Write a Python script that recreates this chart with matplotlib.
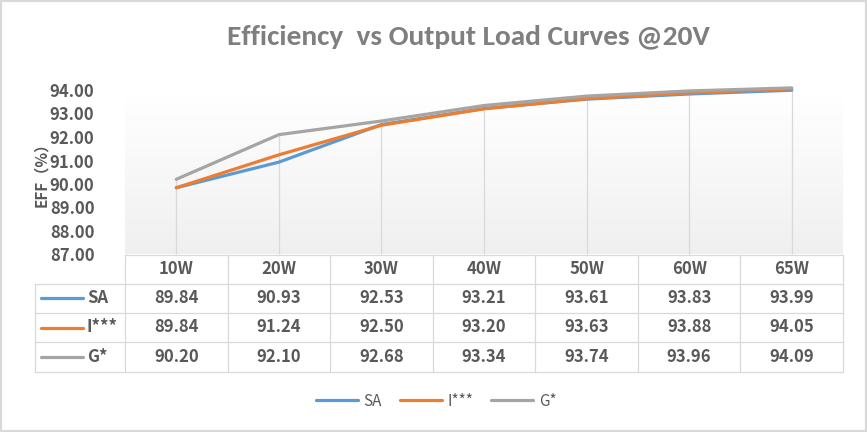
import numpy as np
import matplotlib
matplotlib.use("Agg")
import matplotlib.pyplot as plt
from matplotlib.lines import Line2D
from matplotlib.patches import Rectangle
from matplotlib.colors import to_rgb

# ---------------- data ----------------
categories = ["10W", "20W", "30W", "40W", "50W", "60W", "65W"]
series_names = ["SA", "I***", "G*"]
sa_values = [89.84, 90.93, 92.53, 93.21, 93.61, 93.83, 93.99]
i_values = [89.84, 91.24, 92.50, 93.20, 93.63, 93.88, 94.05]
g_values = [90.20, 92.10, 92.68, 93.34, 93.74, 93.96, 94.09]
y_ticks = [87, 88, 89, 90, 91, 92, 93, 94]
title_text = "Efficiency  vs Output Load Curves @20V"
ylabel_text = "EFF（%）"

series_values = [sa_values, i_values, g_values]
colors = ["#5B9BD5", "#ED7D31", "#A5A5A5"]
text_col = "#595959"
grid_col = "#D9D9D9"

plt.rcParams['font.family'] = ['Noto Sans CJK SC', 'DejaVu Sans']

W, H = 867, 432
fig = plt.figure(figsize=(W / 100, H / 100), dpi=100)
fig.patch.set_facecolor("white")


def fx(px):
    return px / W


def fy(py):
    return 1 - py / H


# ---------------- plot area ----------------
left, right, top, bottom = 125, 843, 90, 254.5
ax = fig.add_axes([fx(left), fy(bottom), (right - left) / W, (bottom - top) / H])
ax.set_facecolor("white")
n = len(categories)
x = np.arange(n)
ax.set_xlim(-0.5, n - 0.5)
ax.set_ylim(y_ticks[0], y_ticks[-1])

# background gradient: light grey at the bottom fading to white at the top
c_bot = np.array(to_rgb("#EFEFEF"))
c_top = np.array(to_rgb("#FFFFFF"))
nb = 60
edges = np.linspace(0, 1, nb + 1)
for k in range(nb):
    f = (k + 0.5) / nb
    ax.axhspan(y_ticks[0] + edges[k] * (y_ticks[-1] - y_ticks[0]),
               y_ticks[0] + edges[k + 1] * (y_ticks[-1] - y_ticks[0]),
               color=tuple(c_bot * (1 - f) + c_top * f), lw=0, zorder=0)

tops = np.max(np.array(series_values), axis=0)
ax.vlines(x, y_ticks[0], tops, color=grid_col, lw=0.9, zorder=1)

for vals, c, name in zip(series_values, colors, series_names):
    ax.plot(x, vals, color=c, lw=2.3, clip_on=False, solid_joinstyle="round",
            solid_capstyle="round", zorder=3, label=name)

ax.set_xticks([])
ax.set_yticks(y_ticks)
ax.set_yticklabels([f"{v:.2f}" for v in y_ticks], fontsize=12,
                   fontweight="bold", color=text_col)
ax.tick_params(axis="y", length=0, pad=22)
for s in ax.spines.values():
    s.set_visible(False)

fig.text(fx(41), fy(171), ylabel_text, rotation=90, ha="center", va="center",
         fontsize=11, fontweight="bold", color=text_col)

# ---------------- title ----------------
t = fig.text(fx(468), fy(37), title_text, ha="center", va="center",
             fontsize=18, color="#7F7F7F", fontweight="bold",
             family=["Carlito", "DejaVu Sans"])
fig.canvas.draw()
bb = t.get_window_extent()
t.set_fontsize(18 * 483 / bb.width)


# ---------------- data table ----------------
def dx(xd):
    return fig.transFigure.inverted().transform(ax.transData.transform((xd, 90)))[0]


row_edges = [254.5, 283.5, 313, 342, 372]
label_left = 35
x_left = dx(-0.5)
x_right = dx(n - 0.5)


def hline(x0, x1, py):
    fig.add_artist(Line2D([x0, x1], [fy(py), fy(py)], transform=fig.transFigure,
                          color=grid_col, lw=0.9))


def vline(xf, py0, py1):
    fig.add_artist(Line2D([xf, xf], [fy(py0), fy(py1)], transform=fig.transFigure,
                          color=grid_col, lw=0.9))


hline(x_left, x_right, row_edges[0])
for py in row_edges[1:]:
    hline(fx(label_left), x_right, py)
vline(fx(label_left), row_edges[1], row_edges[-1])
for k in range(n + 1):
    vline(dx(k - 0.5), row_edges[0], row_edges[-1])

hdr_y = (row_edges[0] + row_edges[1]) / 2
for k, cat in enumerate(categories):
    fig.text(dx(k), fy(hdr_y), cat, ha="center", va="center", fontsize=12,
             fontweight="bold", color=text_col)

for r, (vals, c, name) in enumerate(zip(series_values, colors, series_names)):
    yc = (row_edges[r + 1] + row_edges[r + 2]) / 2
    fig.add_artist(Line2D([fx(41), fx(83)], [fy(yc), fy(yc)], transform=fig.transFigure,
                          color=c, lw=2.3, solid_capstyle="round"))
    fig.text(fx(87), fy(yc), name, ha="left", va="center", fontsize=12,
             fontweight="bold", color=text_col)
    for k, v in enumerate(vals):
        fig.text(dx(k), fy(yc), f"{v:.2f}", ha="center", va="center", fontsize=12,
                 fontweight="bold", color=text_col)

# ---------------- legend ----------------
handles = [Line2D([], [], color=c, lw=2.3, solid_capstyle="round") for c in colors]
leg = fig.legend(handles, series_names, loc="center", bbox_to_anchor=(fx(436), fy(401)),
                 ncol=3, frameon=False, fontsize=11, handlelength=2.75,
                 handletextpad=0.35, columnspacing=1.2, labelcolor=text_col)

# ---------------- border ----------------
fig.add_artist(Rectangle((0, 0), 1, 1, transform=fig.transFigure, fill=False,
                         edgecolor="#D9D9D9", lw=3.0))

fig.savefig("out.png", dpi=100, facecolor="white")
